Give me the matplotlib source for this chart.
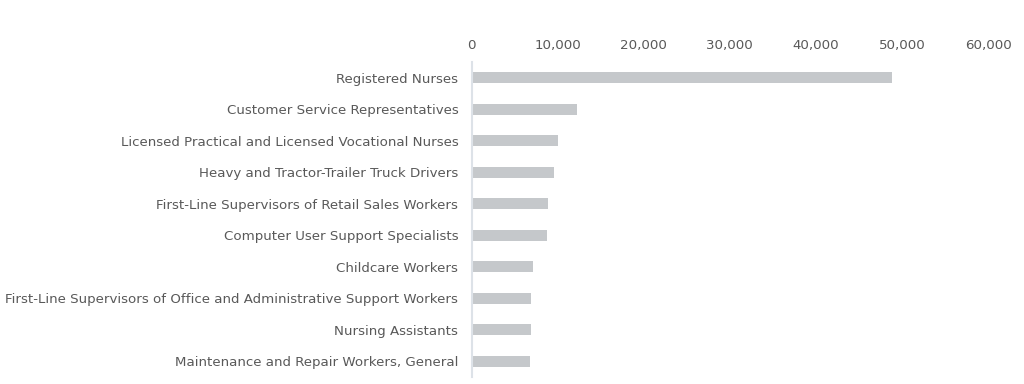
import matplotlib
matplotlib.use("Agg")
import matplotlib.pyplot as plt

categories = [
    "Registered Nurses",
    "Customer Service Representatives",
    "Licensed Practical and Licensed Vocational Nurses",
    "Heavy and Tractor-Trailer Truck Drivers",
    "First-Line Supervisors of Retail Sales Workers",
    "Computer User Support Specialists",
    "Childcare Workers",
    "First-Line Supervisors of Office and Administrative Support Workers",
    "Nursing Assistants",
    "Maintenance and Repair Workers, General",
]
values = [48800, 12200, 10080, 9620, 8920, 8730, 7140, 6950, 6950, 6830]
x_ticks = [0, 10000, 20000, 30000, 40000, 50000, 60000]
x_tick_labels = ["0", "10,000", "20,000", "30,000", "40,000", "50,000", "60,000"]

W, H = 1024, 384
fig = plt.figure(figsize=(W / 100, H / 100), dpi=100)
left, right = 471.5 / W, 988 / W
top, bottom = 1 - 62 / H, 1 - 377 / H
ax = fig.add_axes([left, bottom, right - left, top - bottom])

text_color = "#595959"
ax.barh(range(len(categories)), values, height=0.35, color="#c5c8cb", zorder=2)
ax.set_ylim(len(categories) - 0.5, -0.5)
ax.set_xlim(0, 60000)
ax.set_yticks(range(len(categories)))
ax.set_yticklabels(categories, fontsize=9.6, color=text_color)
ax.set_xticks(x_ticks)
ax.set_xticklabels(x_tick_labels, fontsize=9.6, color=text_color)
ax.xaxis.tick_top()
ax.tick_params(axis="x", length=0, pad=7.5)
ax.tick_params(axis="y", length=0, pad=9.5)
for s in ["top", "right", "bottom"]:
    ax.spines[s].set_visible(False)
ax.spines["left"].set_color("#dde2e8")
ax.spines["left"].set_linewidth(1.5)
ax.set_facecolor("white")

fig.savefig("out.png", dpi=100, facecolor="white")
